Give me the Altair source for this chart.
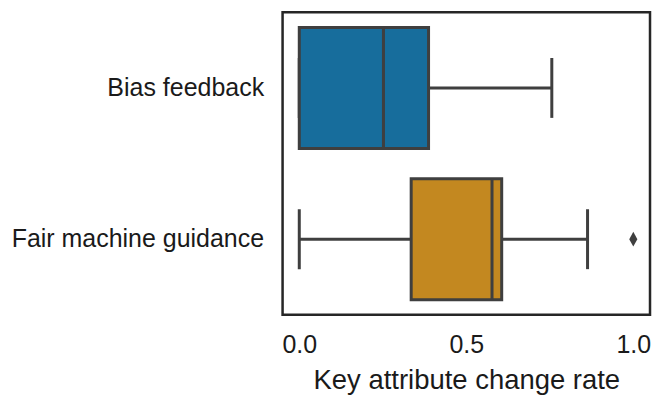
import altair as alt
import pandas as pd

categories = ["Bias feedback", "Fair machine guidance"]
lower = [0.0, 0.0]
q1 = [0.0, 0.335]
median = [0.252, 0.577]
q3 = [0.387, 0.606]
upper = [0.756, 0.863]
colors = ["#176d9c", "#c38820"]

outlier_cat = ["Fair machine guidance"]
outlier_val = [1.0]

box = pd.DataFrame({"cat": categories, "lower": lower, "q1": q1,
                    "median": median, "q3": q3, "upper": upper})
outl = pd.DataFrame({"cat": outlier_cat, "val": outlier_val})

LINE = "#3f3f3f"
FONT = "Liberation Sans"

xscale = alt.Scale(domain=[-0.05, 1.05], nice=False, zero=False)
yscale = alt.Scale(domain=categories, paddingInner=0.2, paddingOuter=0.1)

xaxis = alt.Axis(title="Key attribute change rate", values=[0, 0.5, 1.0], format=".1f",
                 ticks=False, grid=False, domain=False, labelFontSize=25,
                 titleFontSize=27.5, labelPadding=18, titlePadding=9,
                 labelColor="#1a1a1a", titleColor="#1a1a1a", titleFontWeight="normal",
                 labelFont=FONT, titleFont=FONT)
yaxis = alt.Axis(title=None, ticks=False, grid=False, domain=False, labelFontSize=25,
                 labelPadding=19, labelColor="#1a1a1a", labelFont=FONT, labelLimit=0)

base = alt.Chart(box)
y = alt.Y("cat:N", scale=yscale, axis=yaxis, sort=categories)

w_lo = base.mark_rule(color=LINE, strokeWidth=3).encode(
    x=alt.X("lower:Q", scale=xscale, axis=xaxis), x2="q1:Q", y=y)
w_hi = base.mark_rule(color=LINE, strokeWidth=3).encode(
    x=alt.X("q3:Q", scale=xscale), x2="upper:Q", y=y)
cap_lo = base.mark_tick(color=LINE, thickness=3, size=60, opacity=1).encode(
    x=alt.X("lower:Q", scale=xscale), y=y)
cap_hi = base.mark_tick(color=LINE, thickness=3, size=60, opacity=1).encode(
    x=alt.X("upper:Q", scale=xscale), y=y)
bars = base.mark_bar(stroke=LINE, strokeWidth=3).encode(
    x=alt.X("q1:Q", scale=xscale), x2="q3:Q", y=y,
    color=alt.Color("cat:N", scale=alt.Scale(domain=categories, range=colors), legend=None))
med = base.mark_tick(color=LINE, thickness=3, size=121, opacity=1).encode(
    x=alt.X("median:Q", scale=xscale), y=y)
pts = alt.Chart(outl).mark_point(shape="M0,-1L0.55,0L0,1L-0.55,0Z", filled=True,
                                 color=LINE, size=220, opacity=1).encode(
    x=alt.X("val:Q", scale=xscale),
    y=alt.Y("cat:N", scale=yscale, sort=categories))

chart = alt.layer(w_lo, w_hi, cap_lo, cap_hi, bars, med, pts).properties(
    width=368, height=303,
    padding={"left": 3, "top": 4, "right": 5, "bottom": 5}
).configure(background="white").configure_view(stroke="#262626", strokeWidth=2.5)

chart.save("out.html", embed_options={"renderer": "svg", "actions": False})
